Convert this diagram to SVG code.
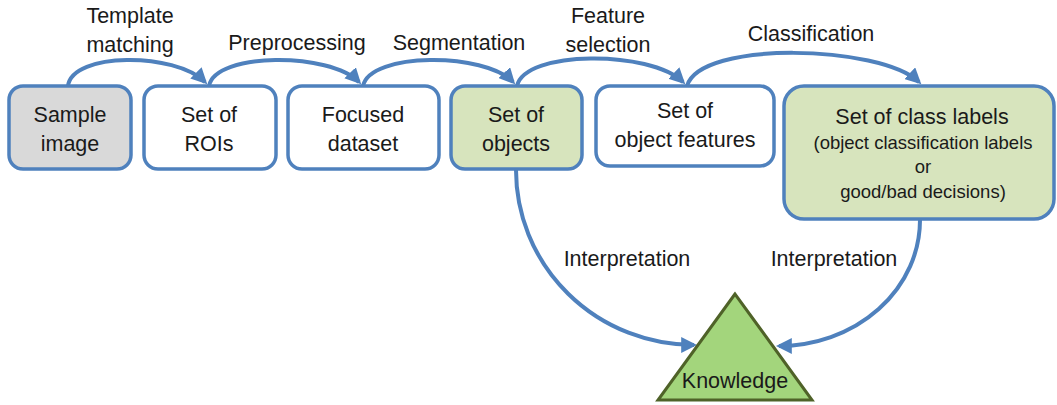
<svg xmlns="http://www.w3.org/2000/svg" width="1057" height="405" viewBox="0 0 1057 405">
<style>
.box{stroke:#4f81bd;stroke-width:3.5}
.w{fill:#ffffff}
.g{fill:#d9d9d9}
.gr{fill:#d7e4bd}
.t{font-family:"Liberation Sans",Arial,sans-serif;font-size:21.5px;fill:#1a1a1a;text-anchor:middle}
.s{font-size:18.5px}
.c{fill:none;stroke:#4f81bd;stroke-width:4}
</style>
<defs>
<marker id="ah" markerUnits="userSpaceOnUse" markerWidth="16" markerHeight="16" viewBox="0 0 10 10" refX="8" refY="5" orient="auto">
<path d="M0,0 L10,5 L0,10 z" fill="#4f81bd"/>
</marker>
</defs>
<rect width="1057" height="405" fill="#ffffff"/>
<g id="connectors">
<path class="c" d="M68,86 C72,52 175,52 205,82" marker-end="url(#ah)"/>
<path class="c" d="M209,86 C215,52 330,52 359,82" marker-end="url(#ah)"/>
<path class="c" d="M363,86 C370,52 485,52 513,82" marker-end="url(#ah)"/>
<path class="c" d="M517,86 C525,50 650,50 683,82" marker-end="url(#ah)"/>
<path class="c" d="M687,86 C700,40 880,45 919,82" marker-end="url(#ah)"/>
<path class="c" d="M516,170 A178,175 0 0 0 694,345" marker-end="url(#ah)"/>
<path class="c" d="M920,220 A141,126 0 0 1 779,346" marker-end="url(#ah)"/>
<text class="t" x="130" y="23">Template</text>
<text class="t" x="130" y="52">matching</text>
<text class="t" x="297" y="50">Preprocessing</text>
<text class="t" x="459" y="50">Segmentation</text>
<text class="t" x="608" y="23">Feature</text>
<text class="t" x="608" y="52">selection</text>
<text class="t" x="811" y="41">Classification</text>
<text class="t" x="627" y="266">Interpretation</text>
<text class="t" x="834" y="266">Interpretation</text>
</g>
<g id="sample">
<rect class="box g" x="9" y="86" width="122" height="83" rx="14"/>
<text class="t" x="70" y="122">Sample</text>
<text class="t" x="70" y="151">image</text>
</g>
<g id="rois">
<rect class="box w" x="144" y="86" width="132" height="83" rx="14"/>
<text class="t" x="209" y="122">Set of</text>
<text class="t" x="209" y="151">ROIs</text>
</g>
<g id="focused">
<rect class="box w" x="288" y="86" width="151" height="83" rx="14"/>
<text class="t" x="363" y="122">Focused</text>
<text class="t" x="363" y="151">dataset</text>
</g>
<g id="objects">
<rect class="box gr" x="451" y="86" width="131" height="83" rx="14"/>
<text class="t" x="516" y="122">Set of</text>
<text class="t" x="516" y="151">objects</text>
</g>
<g id="features">
<rect class="box w" x="596" y="86" width="178" height="80" rx="14"/>
<text class="t" x="685" y="118">Set of</text>
<text class="t" x="685" y="147">object features</text>
</g>
<g id="classlabels">
<rect class="box gr" x="784" y="86" width="270" height="133" rx="20"/>
<text class="t" x="922" y="124">Set of class labels</text>
<text class="t s" x="923" y="149">(object classification labels</text>
<text class="t s" x="923" y="173">or</text>
<text class="t s" x="923" y="198">good/bad decisions)</text>
</g>
<g id="knowledge">
<polygon points="735,294 658,400 812,400" fill="#a3d57c" stroke="#4f6228" stroke-width="3" stroke-linejoin="miter"/>
<text class="t" x="735" y="388">Knowledge</text>
</g>
</svg>
